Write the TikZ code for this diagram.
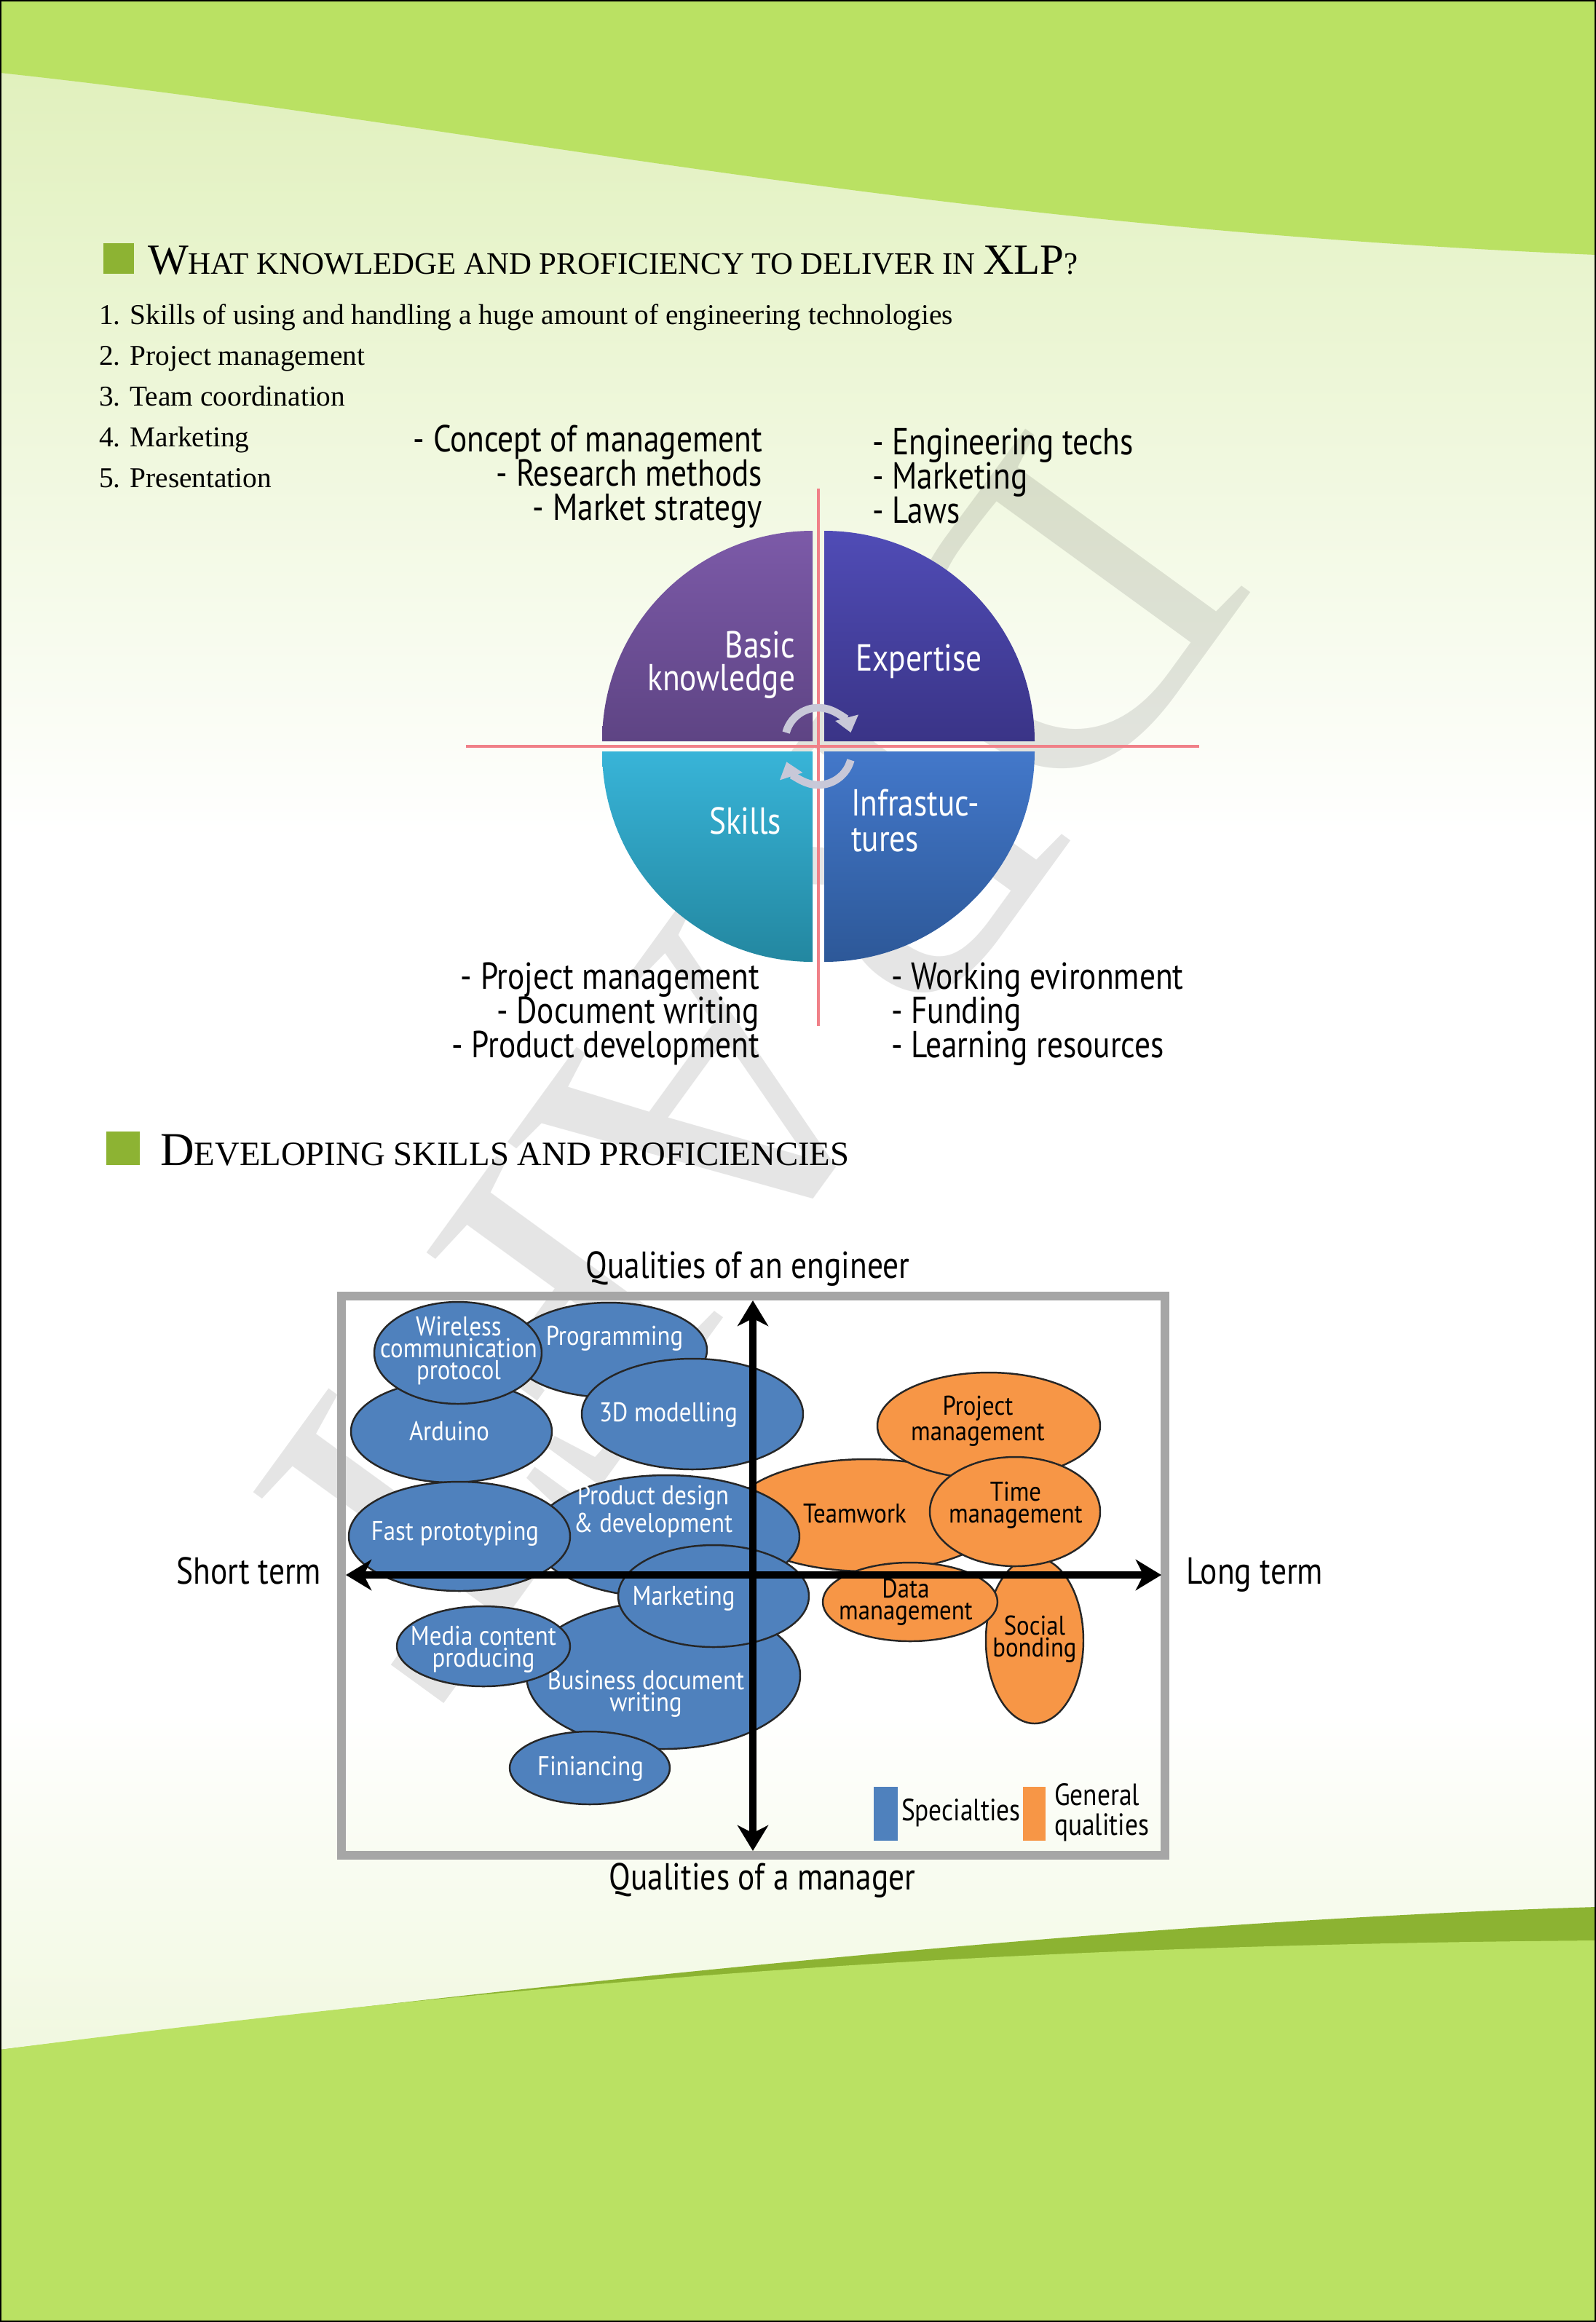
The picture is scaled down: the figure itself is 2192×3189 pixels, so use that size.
\documentclass[tikz,border=0pt]{standalone}
\usepackage{fontspec}
\setmainfont{Liberation Serif}
\newfontfamily\condsans[FakeStretch=0.84]{PT Sans}
\newfontfamily\bubsans[FakeStretch=0.88]{PT Sans}
\usepackage{tikz}
\usetikzlibrary{positioning,arrows.meta,shapes.geometric}
\usepackage{xcolor}

\definecolor{leafgreen}{RGB}{186,225,99}
\definecolor{palegreen}{RGB}{222,239,183}
\definecolor{darkleaf}{RGB}{140,179,50}
\definecolor{markgreen}{RGB}{141,179,51}
\definecolor{specblue}{RGB}{79,129,189}
\definecolor{genorange}{RGB}{247,150,70}
\definecolor{framegrey}{RGB}{166,166,166}
\definecolor{crossred}{RGB}{240,128,136}
\definecolor{cycgrey}{RGB}{200,200,216}
\definecolor{qaTop}{RGB}{124,90,168}
\definecolor{qaBot}{RGB}{94,68,132}
\definecolor{qbTop}{RGB}{80,76,182}
\definecolor{qbBot}{RGB}{58,52,135}
\definecolor{qcTop}{RGB}{56,180,216}
\definecolor{qcBot}{RGB}{35,135,160}
\definecolor{qdTop}{RGB}{67,120,202}
\definecolor{qdBot}{RGB}{45,88,152}

\newcommand\capbig{\fontsize{16.8pt}{18pt}\selectfont}
\newcommand\capsmall{\fontsize{12.2pt}{14pt}\selectfont}
\newcommand\capbigB{\fontsize{18.4pt}{20pt}\selectfont}
\newcommand\capsmallB{\fontsize{13.3pt}{15pt}\selectfont}

\begin{document}
\begin{tikzpicture}[x=0.1mm,y=-0.1mm,
  txt/.style={inner sep=0pt, outer sep=0pt},
  listtxt/.style={txt, font=\fontsize{11.2pt}{13pt}\selectfont},
  cond/.style={txt, font=\condsans\fontsize{14.7pt}{16pt}\selectfont},
  quadtxt/.style={cond, text=white},
  bubble/.style={ellipse, draw=black!85, line width=0.7pt, inner sep=0pt},
  bublab/.style={txt, align=center, font=\bubsans\fontsize{10.6pt}{8.6pt}\selectfont},
  legtxt/.style={txt, font=\condsans\fontsize{12pt}{14pt}\selectfont},
  crossline/.style={draw=crossred, line width=0.9pt},
  cycarrow/.style={draw=cycgrey, line width=3pt, -{Triangle[length=6pt,width=9pt]}},
  axisline/.style={line width=2.6pt, {Stealth[length=10pt,width=12pt,inset=3pt]}-{Stealth[length=10pt,width=12pt,inset=3pt]}}]
  \useasboundingbox (0,0) rectangle (2192,3189);

  % Page background
  \shade[top color=palegreen, bottom color=white] (0,0) rectangle (2192,1150);
  \fill[leafgreen] (0,0) -- (0,100) .. controls (650,170) and (1250,310) .. (2192,350) -- (2192,0) -- cycle;
  \shade[top color=white, bottom color=palegreen!45] (0,2350) rectangle (2192,2830);
  \fill[darkleaf] (0,3189) -- (0,2815) .. controls (700,2730) and (1500,2640) .. (2192,2619) -- (2192,3189) -- cycle;
  \fill[leafgreen] (0,3189) -- (0,2815) .. controls (700,2725) and (1300,2672) .. (2192,2665) -- (2192,3189) -- cycle;

  % Watermark
  \node[rotate=-126, text=black, text opacity=0.1, font=\fontsize{166pt}{166pt}\selectfont] (wmark) at (1012,1462) {DRAFT};

  % Section 1
  \fill[markgreen] (142,334) rectangle (184,376);
  \node[txt, anchor=base west] (ttlA) at (203,376)
    {{\capbig W}{\capsmall HAT KNOWLEDGE AND PROFICIENCY TO DELIVER IN }{\capbig XLP}{\capsmall ?}};
  \foreach \i/\txt in {0/Skills of using and handling a huge amount of engineering technologies,
      1/Project management,2/Team coordination,3/Marketing,4/Presentation} {
    \pgfmathtruncatemacro{\n}{\i+1}
    \node[listtxt, anchor=base west] (item\n) at (136,445+56*\i) {\n. \txt};
  }

  % Four quadrants
  \shade[top color=qaTop, bottom color=qaBot] (1116,1018) -- (827,1018) arc[start angle=180, end angle=90, radius=28.9mm] -- cycle;
  \shade[top color=qbTop, bottom color=qbBot] (1132,1018) -- (1132,729) arc[start angle=90, end angle=0, radius=28.9mm] -- cycle;
  \shade[top color=qcTop, bottom color=qcBot] (1116,1032) -- (827,1032) arc[start angle=180, end angle=270, radius=28.9mm] -- cycle;
  \shade[top color=qdTop, bottom color=qdBot] (1132,1032) -- (1421,1032) arc[start angle=0, end angle=-90, radius=28.9mm] -- cycle;

  \coordinate (vTop) at (1124,671);
  \coordinate (vBot) at (1124,1409);
  \coordinate (hLeft) at (640,1025);
  \coordinate (hRight) at (1647,1025);
  \draw[crossline] (vTop) -- (vBot);
  \draw[crossline] (hLeft) -- (hRight);

  % cycle arrows round the centre
  \draw[cycarrow] (1079.6,1006.1) arc[start angle=165, end angle=15, radius=4.6mm];
  \draw[cycarrow] (1168.4,1043.9) arc[start angle=-15, end angle=-162, radius=4.6mm];

  \node[quadtxt, anchor=base east] (basicA) at (1092,903) {Basic};
  \node[quadtxt, anchor=base east] (basicB) at (1092,948) {knowledge};
  \node[quadtxt, anchor=base west] (expert) at (1175,921) {Expertise};
  \node[quadtxt, anchor=base west] (skills) at (974,1145) {Skills};
  \node[quadtxt, anchor=base west] (infraA) at (1169,1120) {Infrastuc-};
  \node[quadtxt, anchor=base west] (infraB) at (1169,1169) {tures};

  \foreach \i/\txt in {0/Concept of management,1/Research methods,2/Market strategy}
    \node[cond, anchor=base east] (kn\i) at (1047,620+47*\i) {- \txt};
  \foreach \i/\txt in {0/Engineering techs,1/Marketing,2/Laws}
    \node[cond, anchor=base west] (ex\i) at (1198,624+47*\i) {- \txt};
  \foreach \i/\txt in {0/Project management,1/Document writing,2/Product development}
    \node[cond, anchor=base east] (sk\i) at (1043,1358+47*\i) {- \txt};
  \foreach \i/\txt in {0/Working evironment,1/Funding,2/Learning resources}
    \node[cond, anchor=base west] (in\i) at (1224,1358+47*\i) {- \txt};

  % Section 2
  \fill[markgreen] (146,1554) rectangle (192,1600);
  \node[txt, anchor=base west] (ttlB) at (220,1600)
    {{\capbigB D}{\capsmallB EVELOPING SKILLS AND PROFICIENCIES}};

  \draw[framegrey, line width=3.4pt] (469,1780) rectangle (1600,2548);

  % Bubbles: (name/fill/text/cx/cy/rx/ry/label x/label y/label)
  \foreach \nm/\fc/\tc/\cx/\cy/\rx/\ry/\lx/\ly/\lab in {%
    tw/genorange/black/1190/2081/185/77/1174/2079/Teamwork,
    sb/genorange/black/1421/2253/67/114/1421/2251/{Social\\bonding},
    pm/genorange/black/1358/1958/153/73/1343/1952/{Project\\management},
    tm/genorange/black/1394/2076/117/75/1395/2067/{Time\\management},
    dm/genorange/black/1250/2200/120/54/1244/2200/{Data\\management},
    prg/specblue/white/836/1854/135/65/844/1838/Programming,
    ard/specblue/white/620/1966/138/70/617/1965/Arduino,
    wcp/specblue/white/629/1858/115/70/630/1855/{Wireless\\communication\\protocol},
    tdm/specblue/white/951/1942/152/76/918/1943/3D modelling,
    pdd/specblue/white/915/2110/183/84/897/2076/{Product design\\\& development},
    fpt/specblue/white/631/2110/152/75/625/2106/Fast prototyping,
    bdw/specblue/white/911/2301/188/101/887/2326/{Business document\\writing},
    fin/specblue/white/810/2428/110/50/811/2429/Finiancing,
    mcp/specblue/white/664/2261/119/55/664/2265/{Media content\\producing},
    mkt/specblue/white/980/2192/131/70/939/2195/Marketing%
  } {%
    \node[bubble, fill=\fc, minimum width=2*\rx*0.1mm, minimum height=2*\ry*0.1mm] (\nm) at (\cx,\cy) {};
    \node[bublab, text=\tc] (\nm-t) at (\lx,\ly) {\lab};
  }

  % Axes
  \coordinate (engTop) at (1034,1786);
  \coordinate (mgrBot) at (1034,2542);
  \coordinate (shortEnd) at (475,2163);
  \coordinate (longEnd) at (1595,2163);
  \draw[axisline] (engTop) -- (mgrBot);
  \draw[axisline] (shortEnd) -- (longEnd);
  \node[cond, anchor=base] (eng) at (1027,1755) {Qualities of an engineer};
  \node[cond, anchor=base] (mgr) at (1047,2595) {Qualities of a manager};
  \node[cond, anchor=base east] (short) at (441,2175) {Short term};
  \node[cond, anchor=base west] (long) at (1629,2175) {Long term};

  % Legend
  \fill[specblue] (1200,2454) rectangle (1233,2528);
  \node[legtxt, anchor=base west] (legA) at (1238,2500) {Specialties};
  \fill[genorange] (1405,2454) rectangle (1436,2528);
  \node[legtxt, anchor=base west] (legB) at (1448,2479) {General};
  \node[legtxt, anchor=base west] (legC) at (1448,2520) {qualities};

  % Page frame
  \draw[line width=0.8pt] (1,1) rectangle (2191,3188);
\end{tikzpicture}
\end{document}
